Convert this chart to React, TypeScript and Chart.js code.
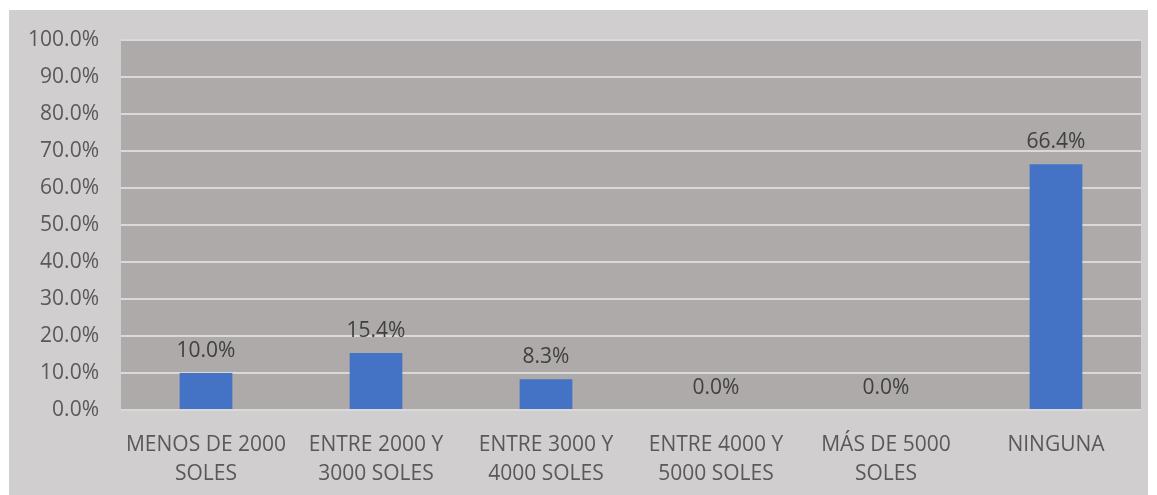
import React, { useEffect, useRef } from "react";
import { Chart, registerables } from "chart.js";

Chart.register(...registerables);

const categories: string[][] = [
  ["MENOS DE 2000", "SOLES"],
  ["ENTRE 2000 Y", "3000 SOLES"],
  ["ENTRE 3000 Y", "4000 SOLES"],
  ["ENTRE 4000 Y", "5000 SOLES"],
  ["MÁS DE 5000", "SOLES"],
  ["NINGUNA"],
];
const values: number[] = [10.0, 15.4, 8.3, 0.0, 0.0, 66.4];
const yTicks: number[] = [0, 10, 20, 30, 40, 50, 60, 70, 80, 90, 100];

const FONT = "'Open Sans', sans-serif";
const TEXT = "#595959";

const plotBg = {
  id: "plotBg",
  beforeDraw(chart: any) {
    const { ctx, chartArea } = chart;
    ctx.save();
    ctx.fillStyle = "#aeaaaa";
    ctx.fillRect(chartArea.left, chartArea.top, chartArea.right - chartArea.left, chartArea.bottom - chartArea.top);
    ctx.restore();
  },
};

const dataLabels = {
  id: "dataLabels",
  afterDatasetsDraw(chart: any) {
    const { ctx } = chart;
    const meta = chart.getDatasetMeta(0);
    ctx.save();
    ctx.font = `21px ${FONT}`;
    ctx.fillStyle = "#404040";
    ctx.textAlign = "center";
    ctx.textBaseline = "alphabetic";
    meta.data.forEach((bar: any, i: number) => {
      ctx.fillText(values[i].toFixed(1) + "%", bar.x, bar.y - 16);
    });
    ctx.restore();
  },
};

export default function App() {
  const ref = useRef<HTMLCanvasElement>(null);
  useEffect(() => {
    if (!ref.current) return;
    const chart = new Chart(ref.current, {
      type: "bar",
      data: {
        labels: categories,
        datasets: [
          {
            data: values,
            backgroundColor: "#4472c4",
            categoryPercentage: 1,
            barPercentage: 0.31,
          },
        ],
      },
      options: {
        animation: false,
        responsive: false,
        maintainAspectRatio: false,
        layout: { padding: { top: 30, right: 7, left: 0, bottom: 0 } },
        plugins: { legend: { display: false }, tooltip: { enabled: false } },
        scales: {
          x: {
            grid: { display: false, drawTicks: false },
            border: { display: false },
            ticks: {
              color: TEXT,
              font: { family: FONT, size: 21, lineHeight: 1.38 },
              padding: 21,
              maxRotation: 0,
              autoSkip: false,
            },
            afterFit(scale: any) {
              scale.height = 85;
              scale.paddingLeft = 0;
              scale.paddingRight = 0;
            },
          },
          y: {
            min: 0,
            max: 100,
            afterBuildTicks(scale: any) {
              scale.ticks = yTicks.map((v) => ({ value: v }));
            },
            grid: { color: "#d9d9d9", lineWidth: 2, drawTicks: false },
            border: { display: false },
            ticks: {
              color: TEXT,
              font: { family: FONT, size: 21 },
              padding: 22,
              callback: (v: any) => Number(v).toFixed(1) + "%",
            },
            afterFit(scale: any) {
              scale.width = 112;
              scale.paddingTop = 0;
              scale.paddingBottom = 0;
            },
          },
        },
      },
      plugins: [plotBg, dataLabels],
    });
    return () => chart.destroy();
  }, []);
  return (
    <div style={{ position: "absolute", left: 9, top: 10, width: 1139, height: 485, background: "#d0cece" }}>
      <canvas ref={ref} width={1139} height={485} style={{ display: "block" }} />
    </div>
  );
}
